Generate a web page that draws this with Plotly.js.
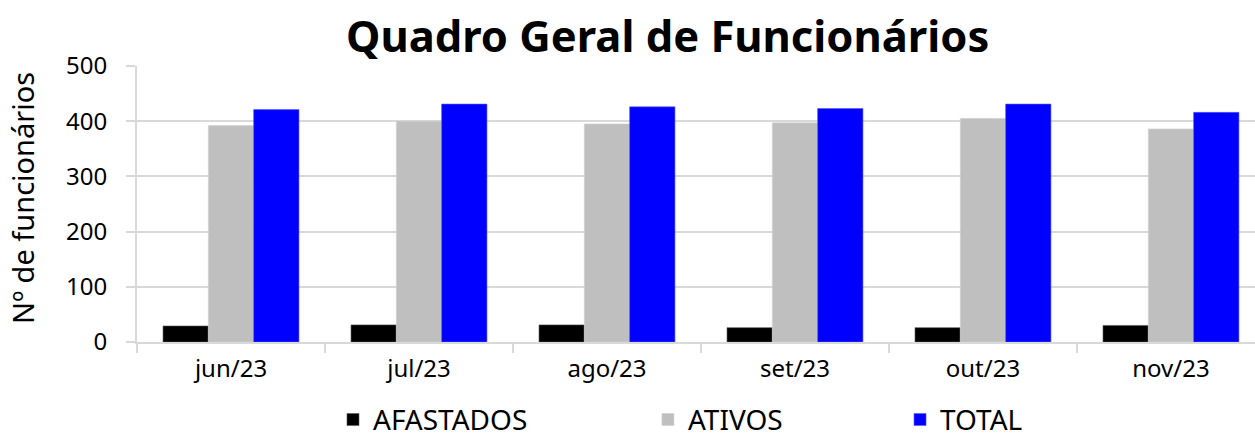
<!DOCTYPE html>
<html>
<head>
<meta charset="utf-8">
<script src="https://cdn.plot.ly/plotly-3.0.1.min.js"></script>
<style>html,body{margin:0;padding:0;background:#fff;}#chart{width:1255px;height:437px;}</style>
</head>
<body>
<div id="chart"></div>
<script>
const months = ["jun/23", "jul/23", "ago/23", "set/23", "out/23", "nov/23"];
const afastados = [29, 31, 31, 26, 26, 30];
const ativos = [392, 400, 395, 397, 405, 386];
const total = [421, 431, 426, 423, 431, 416];
const seriesNames = ["AFASTADOS", "ATIVOS", "TOTAL"];
const seriesColors = ["#000000", "#bfbfbf", "#0000ff"];
const yTitle = "Nº de funcionários";

const FONT = "Noto Sans, sans-serif";
const vals = [afastados, ativos, total];
const legendIds = ["legend", "legend2", "legend3"];
const traces = vals.map((v, i) => ({
  type: "bar",
  name: seriesNames[i],
  x: months,
  y: v,
  marker: {color: seriesColors[i], line: {color: i === 0 ? "#555" : (i === 1 ? "#d0d0d0" : "#5555ff"), width: 0.6}},
  legend: legendIds[i],
  hoverinfo: "x+y+name"
}));

const legendBase = {
  orientation: "h", yanchor: "middle", xanchor: "left", y: -0.282,
  font: {family: FONT, size: 28, color: "#000"}, bgcolor: "rgba(0,0,0,0)", borderwidth: 0
};

const layout = {
  width: 1255, height: 437,
  margin: {l: 137, r: 0, t: 66, b: 95, autoexpand: false},
  paper_bgcolor: "#fff", plot_bgcolor: "#fff",
  title: {text: "<b>Quadro Geral de Funcionários</b>", font: {family: FONT, size: 43.5, color: "#000"}, x: 0.532, xanchor: "center", y: 0.915, yanchor: "middle", yref: "container"},
  barmode: "group", bargap: 0.277, bargroupgap: 0,
  xaxis: {
    type: "category", range: [-0.5, 5.447],
    tickson: "boundaries", ticks: "outside", ticklen: 9, tickcolor: "#d9d9d9", tickwidth: 2,
    showline: true, linecolor: "#d9d9d9", linewidth: 2,
    showgrid: false,
    tickfont: {family: FONT, size: 24, color: "#000"},
    ticklabelstandoff: 4
  },
  yaxis: {
    range: [0, 500], dtick: 100, tick0: 0,
    showgrid: true, gridcolor: "#d9d9d9", gridwidth: 2,
    showline: true, linecolor: "#d9d9d9", linewidth: 2,
    ticks: "outside", ticklen: 9, tickcolor: "#d9d9d9", tickwidth: 2,
    zeroline: false,
    tickfont: {family: FONT, size: 24, color: "#000"},
    ticklabelstandoff: 14
  },
  annotations: [{
    text: yTitle, xref: "paper", yref: "paper", x: -0.1025, y: 0.5236,
    xanchor: "center", yanchor: "middle", textangle: -90, showarrow: false,
    font: {family: FONT, size: 29, color: "#000"}
  }],
  legend: Object.assign({}, legendBase, {x: 0.1753}),
  legend2: Object.assign({}, legendBase, {x: 0.457}),
  legend3: Object.assign({}, legendBase, {x: 0.6825}),
  showlegend: true
};

Plotly.newPlot("chart", traces, layout, {displayModeBar: false, staticPlot: false});
</script>
</body>
</html>
